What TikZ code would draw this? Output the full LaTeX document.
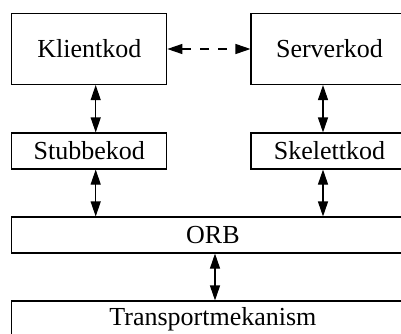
\documentclass[tikz,border=0pt]{standalone}
\usepackage{fontspec}
\setmainfont{Liberation Serif}
\usetikzlibrary{arrows.meta}
\begin{document}
\begin{tikzpicture}[x=1pt,y=-1pt,
  box/.style={draw,line width=1.1pt,inner sep=0pt,font=\fontsize{26}{30}\selectfont},
  link/.style={line width=1.1pt,{Triangle[length=15pt,width=10pt]}-{Triangle[length=15pt,width=10pt]}}]
\useasboundingbox (0,0) rectangle (401,333);
\clip (0,0) rectangle (401,333);
% component boxes
\node[box,minimum width=155pt,minimum height=71pt] (kl) at (89.3,49) {Klientkod};
\node[box,minimum width=157pt,minimum height=71pt] (sv) at (329.5,49) {Serverkod};
\node[box,minimum width=155pt,minimum height=36pt] (st) at (89.3,151) {Stubbekod};
\node[box,minimum width=157pt,minimum height=36pt] (sk) at (329.5,151) {Skelettkod};
\node[box,minimum width=402pt,minimum height=36pt] (orb) at (212.9,235) {ORB};
\node[box,minimum width=402pt,minimum height=36pt] (tr) at (212.9,319) {Transportmekanism};
% x positions of the vertical links
\coordinate (xl) at (95.7,0);
\coordinate (xr) at (323,0);
\coordinate (xm) at (215,0);
% links
\draw[link,dash pattern=on 9pt off 9pt] (kl.east) -- (sv.west);
\draw[link] (kl.south -| xl) -- (st.north -| xl);
\draw[link] (sv.south -| xr) -- (sk.north -| xr);
\draw[link] (st.south -| xl) -- (orb.north -| xl);
\draw[link] (sk.south -| xr) -- (orb.north -| xr);
\draw[link] (orb.south -| xm) -- (tr.north -| xm);
\end{tikzpicture}
\end{document}
